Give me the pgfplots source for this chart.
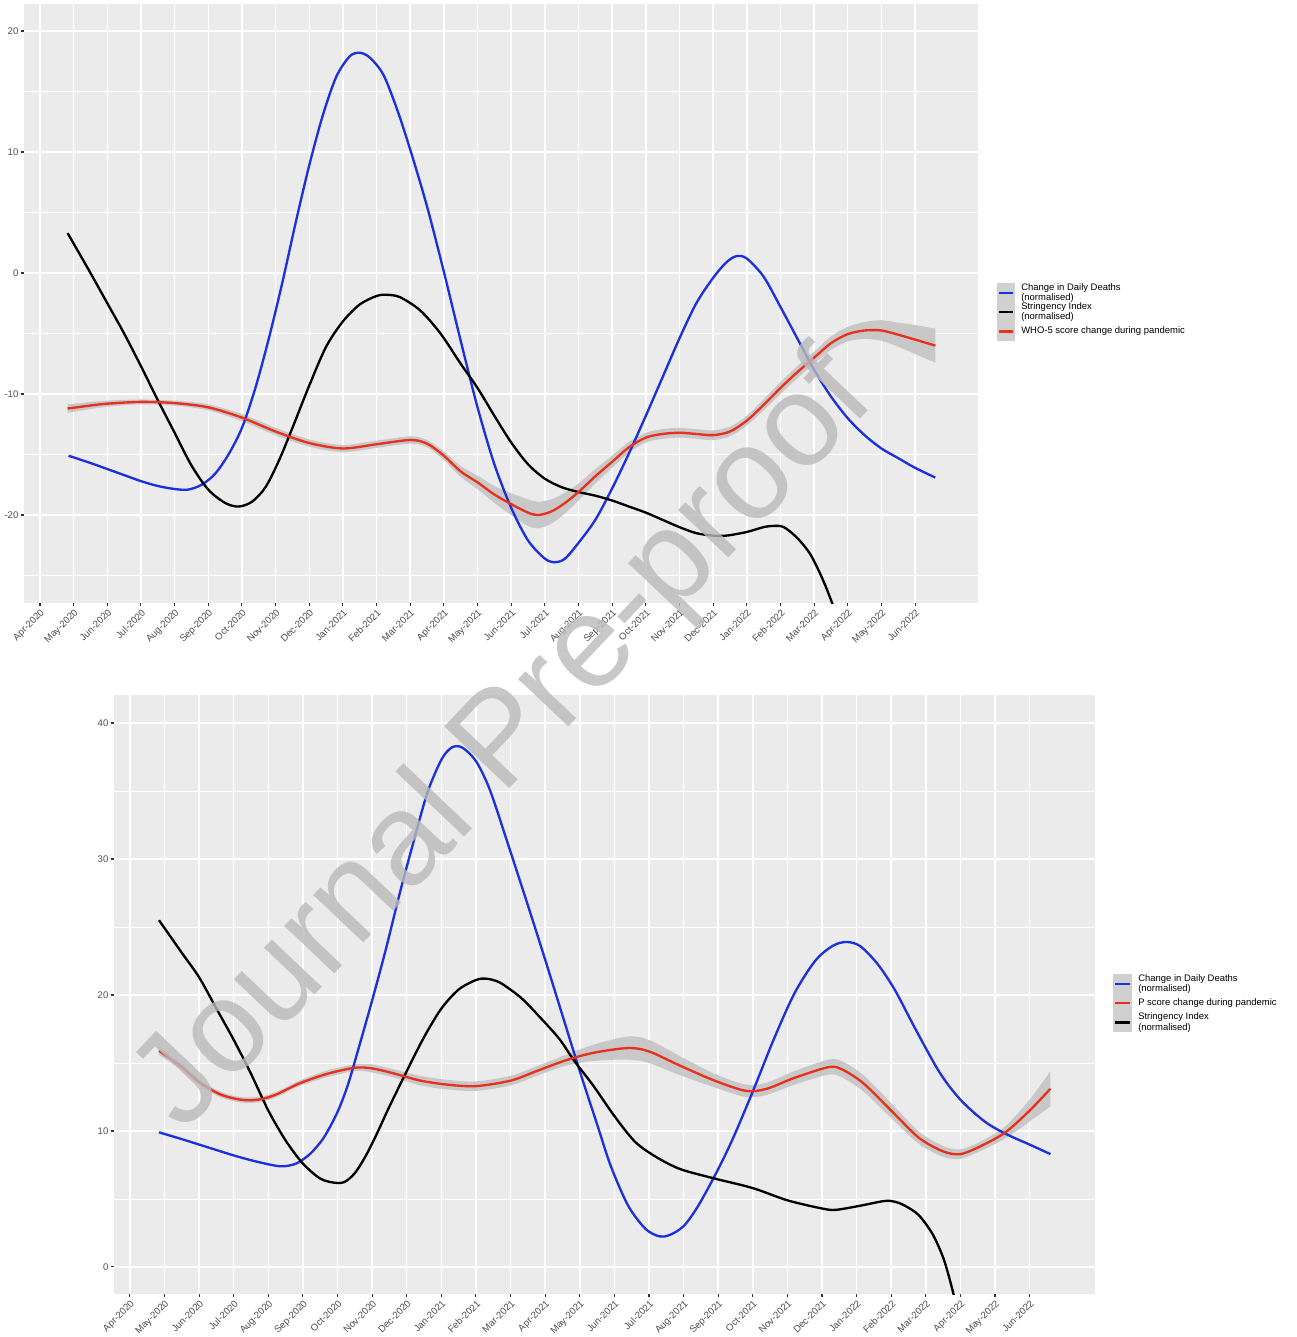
\documentclass[border=0pt]{standalone}
\usepackage{fontspec}
\setmainfont{Liberation Sans}
\usepackage{pgfplots}
\pgfplotsset{compat=1.18}
\usepgfplotslibrary{fillbetween}

\definecolor{panel}{RGB}{235,235,235}
\definecolor{ticktxt}{RGB}{77,77,77}
\definecolor{tickln}{RGB}{51,51,51}
\definecolor{ggblue}{RGB}{28,48,220}
\definecolor{ggred}{RGB}{232,48,28}
\definecolor{band}{RGB}{200,200,200}
\definecolor{keybg}{RGB}{208,208,208}
\definecolor{wm}{RGB}{186,186,186}

% months counted from Apr-2020 = 0
\pgfplotsset{
  ggpanel/.style={
    scale only axis,
    height=449.25pt,
    axis background/.style={fill=panel},
    axis line style={draw=none},
    xmajorgrids, ymajorgrids, yminorgrids,
    major grid style={white, line width=1.1pt},
    minor grid style={white, line width=0.5pt},
    tick align=outside,
    major tick length=2.5pt, minor tick length=0pt,
    tick style={tickln, line width=0.8pt},
    xtick pos=bottom, ytick pos=left,
    xtick={0,...,26},
    xticklabels={Apr-2020,May-2020,Jun-2020,Jul-2020,Aug-2020,Sep-2020,Oct-2020,Nov-2020,Dec-2020,
      Jan-2021,Feb-2021,Mar-2021,Apr-2021,May-2021,Jun-2021,Jul-2021,Aug-2021,Sep-2021,Oct-2021,Nov-2021,Dec-2021,
      Jan-2022,Feb-2022,Mar-2022,Apr-2022,May-2022,Jun-2022},
    xticklabel style={rotate=45, anchor=north east, inner sep=1pt, text=ticktxt,
      font=\fontsize{7.2}{8}\selectfont},
    yticklabel style={inner sep=1.5pt, text=ticktxt, font=\fontsize{7.2}{8}\selectfont},
  },
  deaths/.style={ggblue, line width=1.75pt, smooth},
  string/.style={black, line width=1.75pt, smooth},
  score/.style={ggred, line width=1.75pt, smooth},
  edge/.style={draw=none, smooth, forget plot},
}

\pgfplotstableread{
m v
0.85 -15.1
1.5 -15.7
2 -16.2
2.5 -16.7
3 -17.2
3.5 -17.6
4 -17.85
4.4 -17.9
4.8 -17.5
5.2 -16.6
5.6 -15.0
6.0 -12.8
6.4 -9.5
6.8 -5.4
7.2 -0.8
7.6 4.2
8.0 8.9
8.4 13.0
8.8 16.2
9.2 17.9
9.5 18.2
9.8 17.8
10.2 16.4
10.6 13.6
11.0 10.2
11.5 5.5
12.0 0.1
12.5 -5.6
13.0 -11.1
13.5 -15.8
14.0 -19.4
14.5 -22.1
15.0 -23.6
15.3 -23.9
15.6 -23.6
16.0 -22.3
16.5 -20.4
17.0 -17.8
17.5 -14.9
18.0 -11.8
18.5 -8.6
19.0 -5.4
19.5 -2.5
20.0 -0.4
20.4 0.9
20.7 1.4
21.0 1.2
21.5 -0.3
22.0 -2.8
22.5 -5.4
23.0 -8.0
23.5 -10.2
24.0 -12.0
24.5 -13.4
25.0 -14.5
25.5 -15.3
26.0 -16.1
26.6 -16.9
}\topdeaths

\pgfplotstableread{
m v
0.82 3.3
1.5 0.0
2 -2.5
2.5 -5.0
3 -7.7
3.5 -10.5
4 -13.2
4.5 -15.9
5 -17.9
5.5 -19.0
5.9 -19.3
6.3 -18.9
6.7 -17.7
7.1 -15.5
7.5 -12.8
8.0 -9.3
8.5 -6.1
9.0 -4.0
9.5 -2.6
10.0 -1.9
10.3 -1.8
10.7 -2.0
11.3 -3.1
11.9 -5.0
12.5 -7.5
13.0 -9.5
13.5 -11.8
14.0 -14.0
14.5 -15.8
15.0 -17.0
15.5 -17.7
16.0 -18.1
16.5 -18.4
17.0 -18.8
17.5 -19.3
18.0 -19.8
18.5 -20.4
19.0 -21.0
19.5 -21.5
20.0 -21.7
20.4 -21.7
21.0 -21.4
21.5 -21.0
21.8 -20.9
22.1 -21.0
22.5 -21.9
22.9 -23.3
23.3 -25.6
23.7 -28.5
23.9 -30.0
}\topstring

\pgfplotstableread{
m v lo hi
0.82 -11.2 -11.55 -10.85
1.5 -10.95 -11.25 -10.65
2 -10.8 -11.05 -10.55
3 -10.65 -10.85 -10.45
4 -10.75 -10.95 -10.55
5 -11.1 -11.35 -10.85
6 -11.95 -12.25 -11.65
7 -13.1 -13.4 -12.8
8 -14.05 -14.35 -13.75
9 -14.5 -14.8 -14.2
10 -14.15 -14.45 -13.85
11 -13.8 -14.1 -13.5
11.5 -14.1 -14.4 -13.8
12 -15.1 -15.45 -14.75
12.5 -16.4 -16.85 -15.95
13 -17.3 -17.85 -16.75
13.5 -18.3 -19.0 -17.6
14 -19.1 -20.0 -18.2
14.5 -19.8 -20.9 -18.7
14.8 -20.0 -21.1 -18.9
15.2 -19.7 -20.7 -18.7
15.6 -19.0 -19.85 -18.15
16 -18.1 -18.8 -17.4
16.5 -16.8 -17.4 -16.2
17 -15.6 -16.1 -15.1
17.5 -14.4 -14.85 -13.95
18 -13.6 -14.0 -13.2
18.5 -13.3 -13.7 -12.9
19 -13.2 -13.6 -12.8
19.5 -13.3 -13.7 -12.9
20 -13.4 -13.8 -13.0
20.5 -13.1 -13.5 -12.7
21 -12.2 -12.6 -11.8
21.5 -10.9 -11.35 -10.45
22 -9.5 -10.0 -9.0
22.5 -8.2 -8.7 -7.7
23 -7.0 -7.5 -6.5
23.5 -5.8 -6.35 -5.25
24 -5.05 -5.65 -4.45
24.5 -4.75 -5.45 -4.05
25 -4.75 -5.6 -3.9
25.5 -5.1 -6.1 -4.1
26 -5.5 -6.7 -4.3
26.6 -6.0 -7.4 -4.6
}\topscore

\pgfplotstableread{
m v
0.84 9.9
1.5 9.4
2 9.0
2.5 8.6
3 8.2
3.5 7.85
4 7.55
4.4 7.4
4.8 7.6
5.2 8.3
5.6 9.5
6.0 11.4
6.3 13.4
6.6 16.0
7.0 19.6
7.4 23.4
7.8 27.5
8.2 31.3
8.6 34.9
9.0 37.3
9.3 38.2
9.6 38.2
10.0 37.2
10.4 35.1
10.9 31.3
11.5 26.6
12.0 22.6
12.5 18.5
13.0 14.4
13.5 10.5
13.9 7.4
14.4 4.5
14.9 2.8
15.3 2.25
15.6 2.35
16.0 3.0
16.4 4.4
16.9 6.7
17.4 9.3
18.0 12.9
18.6 16.7
19.2 20.1
19.8 22.5
20.3 23.6
20.7 23.9
21.1 23.6
21.6 22.3
22.1 20.4
22.7 17.5
23.4 14.3
24.0 12.3
24.7 10.7
25.3 9.8
26.0 9.0
26.6 8.3
}\botdeaths

\pgfplotstableread{
m v
0.84 25.5
1.5 23.1
2 21.3
2.5 19.0
3 16.7
3.5 14.2
4 11.5
4.5 9.3
5.0 7.6
5.5 6.5
5.9 6.2
6.2 6.25
6.5 6.9
6.8 8.1
7.1 9.6
7.5 11.8
8.0 14.4
8.5 16.9
9.0 19.0
9.5 20.4
10.0 21.1
10.3 21.2
10.7 20.9
11.3 19.8
11.8 18.5
12.4 16.8
12.83 15.2
13.4 13.3
14.0 11.1
14.6 9.2
15.2 8.1
15.9 7.2
16.9 6.5
18.0 5.8
19.0 4.9
20.0 4.3
20.4 4.2
21.1 4.5
21.8 4.85
22.1 4.8
22.4 4.5
22.8 3.8
23.2 2.4
23.5 0.7
23.7 -1.0
23.9 -3.0
}\botstring

\pgfplotstableread{
m v lo hi
0.84 15.9 15.6 16.2
1.5 14.7 14.45 14.95
2 13.6 13.4 13.8
2.6 12.7 12.5 12.9
3.2 12.3 12.1 12.5
3.7 12.3 12.1 12.5
4.2 12.65 12.45 12.85
4.9 13.5 13.3 13.7
5.7 14.2 13.95 14.45
6.5 14.65 14.4 14.9
7.0 14.6 14.3 14.9
7.6 14.25 13.95 14.55
8.4 13.7 13.35 14.05
9.2 13.4 13.05 13.75
10.0 13.3 12.95 13.65
11.0 13.7 13.35 14.05
11.8 14.45 14.1 14.8
12.6 15.2 14.8 15.6
13.4 15.75 15.15 16.35
14.4 16.1 15.25 16.95
15.0 15.85 15.0 16.7
15.9 14.8 14.1 15.5
16.9 13.7 13.2 14.2
17.8 12.95 12.5 13.4
18.4 13.1 12.65 13.55
19.2 13.9 13.4 14.4
20.2 14.7 14.15 15.25
20.6 14.5 13.9 15.1
21.2 13.5 12.9 14.1
22.0 11.5 10.95 12.05
22.8 9.5 9.05 9.95
23.5 8.5 8.1 8.9
24.0 8.3 7.95 8.65
24.6 8.9 8.55 9.25
25.3 9.9 9.45 10.35
26.0 11.5 10.7 12.3
26.6 13.1 11.8 14.4
}\botscore

\begin{document}
\begin{tikzpicture}

% top panel: WHO-5
\begin{axis}[ggpanel, at={(18pt,-3pt)}, anchor=north west,
  width=715.5pt,
  xmin=-0.475, xmax=27.87, ymin=-27.27, ymax=22.23,
  ytick={-20,-10,0,10,20}, yticklabels={-20,-10,0,10,20},
  minor ytick={-25,-15,-5,5,15}]
\addplot[edge, name path=tlo] table[x=m, y=lo] {\topscore};
\addplot[edge, name path=thi] table[x=m, y=hi] {\topscore};
\addplot[fill=band, draw=none, forget plot] fill between[of=thi and tlo];
\addplot[deaths] table[x=m, y=v] {\topdeaths};
\addplot[string] table[x=m, y=v] {\topstring};
\addplot[score] table[x=m, y=v] {\topscore};
\end{axis}

% bottom panel: P score
\begin{axis}[ggpanel, at={(85.5pt,-521.25pt)}, anchor=north west,
  width=735.75pt,
  xmin=-0.46, xmax=27.89, ymin=-1.99, ymax=42.06,
  ytick={0,10,20,30,40}, yticklabels={0,10,20,30,40},
  minor ytick={5,15,25,35}]
\addplot[edge, name path=blo] table[x=m, y=lo] {\botscore};
\addplot[edge, name path=bhi] table[x=m, y=hi] {\botscore};
\addplot[fill=band, draw=none, forget plot] fill between[of=bhi and blo];
\addplot[deaths] table[x=m, y=v] {\botdeaths};
\addplot[string] table[x=m, y=v] {\botstring};
\addplot[score] table[x=m, y=v] {\botscore};
\end{axis}

\begin{scope}[x=0.75pt, y=-0.75pt]
  % top legend
  \fill[keybg] (997,283) rectangle (1015,341);
  \draw[ggblue, line width=1.6pt] (999,292.75) -- (1013,292.75);
  \draw[black, line width=1.6pt] (999,312.25) -- (1013,312.25);
  \draw[ggred, line width=1.6pt] (999,331.5) -- (1013,331.5);
  \begin{scope}[every node/.style={anchor=west, align=left, inner sep=0pt,
      font=\fontsize{7.1}{7.6}\selectfont}]
    \node at (1021,292.75) {Change in Daily Deaths\\(normalised)};
    \node at (1021,312.25) {Stringency Index\\(normalised)};
    \node at (1021,331.5) {WHO-5 score change during pandemic};
  \end{scope}
  % bottom legend
  \fill[keybg] (1113,974) rectangle (1132,1032);
  \draw[ggblue, line width=1.6pt] (1115,984) -- (1130,984);
  \draw[ggred, line width=1.6pt] (1115,1003) -- (1130,1003);
  \draw[black, line width=1.6pt] (1115,1022.5) -- (1130,1022.5);
  \begin{scope}[every node/.style={anchor=west, align=left, inner sep=0pt,
      font=\fontsize{7.1}{7.6}\selectfont}]
    \node at (1138,984) {Change in Daily Deaths\\(normalised)};
    \node at (1138,1003) {P score change during pandemic};
    \node at (1138,1022.5) {Stringency Index\\(normalised)};
  \end{scope}
  % watermark
  \node[rotate=46.5, text=wm, opacity=0.8, inner sep=0pt,
    font=\fontsize{98}{98}\selectfont] at (506,744) {Journal Pre-proof};
\end{scope}

\pgfresetboundingbox
\path[use as bounding box] (0,0) rectangle (972pt,-1002.75pt);
\end{tikzpicture}
\end{document}
